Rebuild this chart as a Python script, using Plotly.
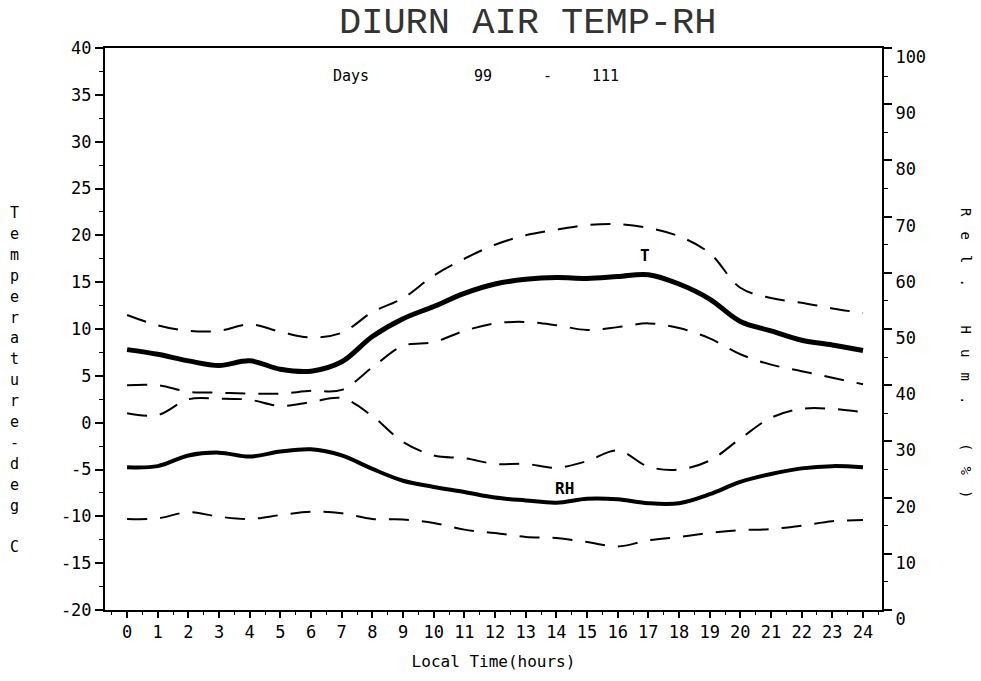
import plotly.graph_objects as go

hours = list(range(0, 25))
t_mean = [7.8, 7.3, 6.6, 6.1, 6.6, 5.7, 5.5, 6.5, 9.2, 11.1, 12.4, 13.8, 14.8, 15.3, 15.5,
          15.4, 15.6, 15.8, 14.8, 13.2, 10.8, 9.8, 8.8, 8.3, 7.7]
t_max = [11.5, 10.4, 9.8, 9.8, 10.5, 9.7, 9.1, 9.6, 11.8, 13.3, 15.7, 17.5, 19.0, 20.0, 20.6,
         21.1, 21.2, 20.8, 19.9, 18.1, 14.4, 13.3, 12.8, 12.2, 11.7]
t_min = [4.0, 4.0, 3.3, 3.2, 3.1, 3.1, 3.4, 3.5, 5.9, 8.2, 8.6, 9.8, 10.6, 10.75, 10.4,
         9.9, 10.2, 10.6, 10.1, 9.0, 7.3, 6.2, 5.5, 4.8, 4.1]
rh_mean = [25.4, 25.6, 27.5, 28.0, 27.3, 28.2, 28.6, 27.5, 25.1, 23.0, 21.9, 21.0, 20.0, 19.5,
           19.1, 19.8, 19.7, 19.0, 19.0, 20.6, 22.8, 24.2, 25.2, 25.6, 25.4]
rh_max = [35.0, 34.7, 37.5, 37.6, 37.4, 36.3, 37.0, 37.7, 34.5, 29.9, 27.5, 27.0, 26.0, 26.0,
          25.3, 26.5, 28.4, 25.5, 25.0, 26.6, 30.5, 34.2, 35.8, 35.8, 35.2]
rh_min = [16.2, 16.3, 17.4, 16.6, 16.2, 16.9, 17.5, 17.2, 16.2, 16.1, 15.5, 14.3, 13.7, 13.0,
          12.8, 12.1, 11.3, 12.4, 13.0, 13.7, 14.2, 14.4, 15.0, 15.8, 16.0]

x_ticks = list(range(0, 25))
y_ticks = list(range(-20, 41, 5))
y2_ticks = list(range(0, 101, 10))

title_text = "DIURN AIR TEMP-RH"
left_title = list("Temperature-deg C")
right_title = list("Rel. Hum. (%)")
x_title = "Local Time(hours)"
days_words = ["Days", "99", "-", "111"]

FONT = "DejaVu Sans Mono"
DASH = "20px,13px"

fig = go.Figure()
fig.add_trace(go.Scatter(x=hours, y=t_max, mode="lines", line=dict(color="black", width=2, dash=DASH, shape="spline"), yaxis="y"))
fig.add_trace(go.Scatter(x=hours, y=t_min, mode="lines", line=dict(color="black", width=2, dash=DASH, shape="spline"), yaxis="y"))
fig.add_trace(go.Scatter(x=hours, y=t_mean, mode="lines", line=dict(color="black", width=5, shape="spline"), yaxis="y"))
fig.add_trace(go.Scatter(x=hours, y=rh_max, mode="lines", line=dict(color="black", width=2, dash=DASH, shape="spline"), yaxis="y2"))
fig.add_trace(go.Scatter(x=hours, y=rh_min, mode="lines", line=dict(color="black", width=2, dash=DASH, shape="spline"), yaxis="y2"))
fig.add_trace(go.Scatter(x=hours, y=rh_mean, mode="lines", line=dict(color="black", width=4, shape="spline"), yaxis="y2"))

ann = []
ann.append(dict(text=title_text, xref="paper", yref="paper", x=0.5, y=1.0, yshift=25, xshift=34,
                showarrow=False, font=dict(family="Liberation Mono", size=37, color="#333"),
                xanchor="center", yanchor="middle"))
day_x = [7.3, 11.6, 13.7, 15.6]
for w, dx in zip(days_words, day_x):
    ann.append(dict(text=w, x=dx, y=37, xref="x", yref="y", showarrow=False,
                    font=dict(family=FONT, size=15, color="black")))
ann.append(dict(text="<b>T</b>", x=16.9, y=17.8, xref="x", yref="y", showarrow=False,
                font=dict(family=FONT, size=16, color="black"), yanchor="middle"))
ann.append(dict(text="<b>RH</b>", x=14.25, y=-7.0, xref="x", yref="y", showarrow=False,
                font=dict(family=FONT, size=16, color="black"), yanchor="middle"))
# stacked left title
for i, ch in enumerate(left_title):
    if ch == " ":
        continue
    ann.append(dict(text=ch, xref="paper", yref="paper", x=0, xshift=-91, y=1.0,
                    yshift=-(213 - 48) - i * 20.9, showarrow=False, xanchor="center", yanchor="middle",
                    font=dict(family=FONT, size=15, color="black")))
# rotated right title
for i, ch in enumerate(right_title):
    if ch == " ":
        continue
    ann.append(dict(text=ch, xref="paper", yref="paper", x=1, xshift=(966 - 882), y=1.0,
                    yshift=-(212 - 48) - i * 23.5, showarrow=False, xanchor="center", yanchor="middle",
                    textangle=90, font=dict(family=FONT, size=14, color="black")))

# page body has an 8px default margin; compensate so the frame sits at 105..882 x 48..610
fig.update_layout(
    width=981, height=681,
    margin=dict(l=97, r=107, t=40, b=79, autoexpand=False),
    paper_bgcolor="white", plot_bgcolor="white",
    showlegend=False,
    annotations=ann,
    xaxis=dict(range=[-0.72, 24.62], tickmode="array", tickvals=x_ticks,
               ticktext=[str(v) for v in x_ticks], ticks="outside", ticklen=6, tickwidth=2,
               tickcolor="black", showline=True, linecolor="black", linewidth=2, mirror=True,
               showgrid=False, zeroline=False,
               minor=dict(dtick=0.5, ticks="outside", ticklen=3, tickcolor="black", tickwidth=1, showgrid=False),
               tickfont=dict(family=FONT, size=17, color="black"),
               title=dict(text=x_title, font=dict(family=FONT, size=16, color="black"), standoff=14)),
    yaxis=dict(range=[-20, 40], tickmode="array", tickvals=y_ticks, ticktext=[str(v) for v in y_ticks],
               ticks="outside", ticklen=8, tickwidth=2, tickcolor="black",
               showline=True, linecolor="black", linewidth=2, mirror=True,
               showgrid=False, zeroline=False,
               minor=dict(dtick=2.5, ticks="outside", ticklen=4, tickcolor="black", tickwidth=1, showgrid=False),
               tickfont=dict(family=FONT, size=17, color="black")),
    yaxis2=dict(range=[0, 100], overlaying="y", side="right", tickmode="array", tickvals=y2_ticks,
                ticktext=[str(v) for v in y2_ticks], ticks="outside", ticklen=8, tickwidth=2,
                tickcolor="black", showline=True, linecolor="black", linewidth=2,
                showgrid=False, zeroline=False, ticklabelshift=9,
                minor=dict(dtick=5, ticks="outside", ticklen=4, tickcolor="black", tickwidth=1, showgrid=False),
                tickfont=dict(family=FONT, size=17, color="black")),
)

fig.write_html("out.html")
